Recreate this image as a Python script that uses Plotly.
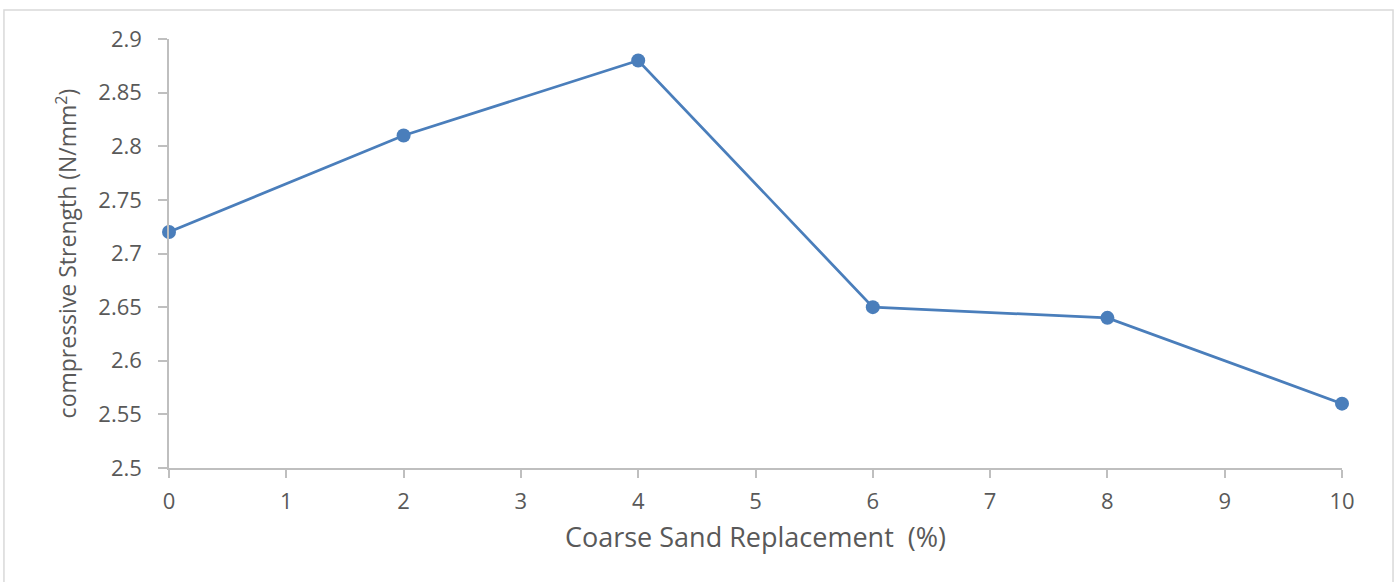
import plotly.graph_objects as go

# Coarse sand replacement (%) vs compressive strength (N/mm²)
replacement = [0, 2, 4, 6, 8, 10]
strength = [2.72, 2.81, 2.88, 2.65, 2.64, 2.56]

x_ticks = [0, 1, 2, 3, 4, 5, 6, 7, 8, 9, 10]
y_ticks = [2.5, 2.55, 2.6, 2.65, 2.7, 2.75, 2.8, 2.85, 2.9]
y_tick_text = ["2.5", "2.55", "2.6", "2.65", "2.7", "2.75", "2.8", "2.85", "2.9"]

font_family = "Open Sans, Liberation Sans, sans-serif"
text_grey = "#595959"
axis_grey = "#BFBFBF"

fig = go.Figure()
fig.add_trace(go.Scatter(
    x=replacement,
    y=strength,
    mode="lines+markers",
    line=dict(color="#4A7EBB", width=2.75),
    marker=dict(color="#4A7EBB", size=14),
    showlegend=False,
    hoverinfo="skip",
    cliponaxis=False,
))

fig.update_layout(
    width=1398,
    height=582,
    margin=dict(l=169, r=56, t=39, b=114),
    paper_bgcolor="white",
    plot_bgcolor="white",
    font=dict(family=font_family, color=text_grey, size=18),
    xaxis=dict(
        range=[0, 10],
        tickvals=x_ticks,
        showgrid=False,
        zeroline=False,
        showline=True,
        linecolor=axis_grey,
        linewidth=1.5,
        ticks="outside",
        ticklen=8,
        tickcolor=axis_grey,
        tickwidth=1.5,
        ticklabelstandoff=5,
        tickfont=dict(size=22, color=text_grey),
        title=dict(text="Coarse Sand Replacement  (%)", font=dict(size=27, color=text_grey), standoff=14),
    ),
    yaxis=dict(
        range=[2.5, 2.9],
        tickvals=y_ticks,
        ticktext=y_tick_text,
        showgrid=False,
        zeroline=False,
        showline=True,
        linecolor=axis_grey,
        linewidth=1.5,
        ticks="outside",
        ticklen=9,
        tickcolor=axis_grey,
        tickwidth=1.5,
        ticklabelstandoff=12,
        tickfont=dict(size=22, color=text_grey),
        title=dict(text="compressive Strength (N/mm<sup>2</sup>)", font=dict(size=23, color=text_grey), standoff=15),
    ),
    shapes=[
        dict(
            type="rect",
            xref="paper", yref="paper",
            x0=-0.1407, x1=1.0435, y0=-0.35, y1=1.0676,
            line=dict(color="#D9D9D9", width=1.5),
            fillcolor="rgba(0,0,0,0)",
            layer="below",
        )
    ],
)

fig.write_html("out.html")
